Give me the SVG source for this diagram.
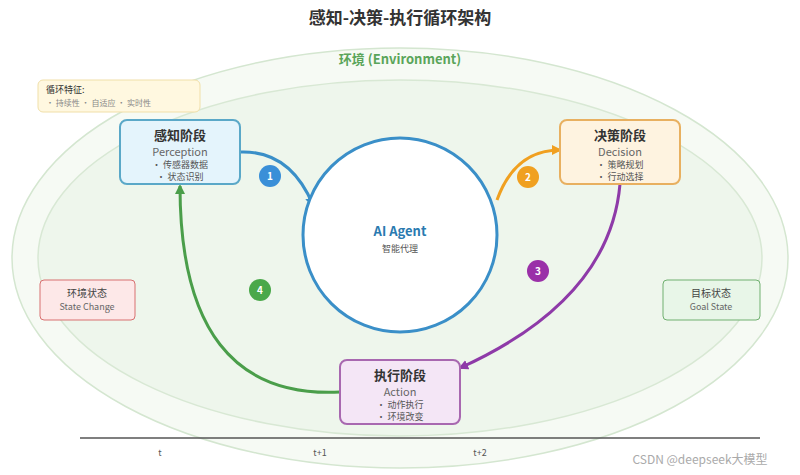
<svg xmlns="http://www.w3.org/2000/svg" width="800" height="475" viewBox="0 0 800 475">
<style>
text{font-family:"Noto Sans CJK SC","Liberation Sans",sans-serif;text-anchor:middle}
.t{font-size:13px;font-weight:bold;fill:#333}
.s{font-size:11px;fill:#666}
.b{font-size:9px;fill:#555}
.n{font-size:10px;fill:#fff;font-weight:bold}
</style>
<defs>
<marker id="mb" markerUnits="userSpaceOnUse" markerWidth="10" markerHeight="10" refX="8" refY="5" orient="auto"><path d="M0,0L10,5L0,10z" fill="#3a8fc8"/></marker>
<marker id="mo" markerUnits="userSpaceOnUse" markerWidth="10" markerHeight="10" refX="8" refY="5" orient="auto"><path d="M0,0L10,5L0,10z" fill="#f0a020"/></marker>
<marker id="mp" markerUnits="userSpaceOnUse" markerWidth="10" markerHeight="10" refX="8" refY="5" orient="auto"><path d="M0,0L10,5L0,10z" fill="#8e3aa8"/></marker>
<marker id="mg" markerUnits="userSpaceOnUse" markerWidth="10" markerHeight="10" refX="8" refY="5" orient="auto"><path d="M0,0L10,5L0,10z" fill="#4a9e4a"/></marker>
</defs>
<rect width="800" height="475" fill="#fff"/>
<text x="400" y="24" style="font-size:17px;font-weight:bold;fill:#333">感知-决策-执行循环架构</text>
<g id="env">
<ellipse cx="400" cy="258" rx="388" ry="210" fill="#f6faf4" stroke="#d4e6d0" stroke-width="1.5"/>
<ellipse cx="400" cy="258" rx="362" ry="178" fill="#eef6ec" stroke="#d8e8d4" stroke-width="1.5"/>
<text x="400" y="64" style="font-size:13px;font-weight:bold;fill:#5aa55a">环境 (Environment)</text>
</g>
<g id="loop">
<rect x="38" y="80" width="162" height="32" rx="5" fill="#fff8e0" stroke="#f0dfa8"/>
<text x="46" y="93" style="font-size:9px;fill:#333;text-anchor:start">循环特征:</text>
<text x="46" y="106" style="font-size:8px;fill:#888;text-anchor:start">• 持续性 • 自适应 • 实时性</text>
</g>
<g id="connectors" fill="none" stroke-width="3">
<path d="M240,152 Q290,150 313,205" stroke="#3a8fc8" marker-end="url(#mb)"/>
<path d="M497,200 Q515,150 560,150" stroke="#f0a020" marker-end="url(#mo)"/>
<path d="M620,184 Q610,300 460,368" stroke="#8e3aa8" marker-end="url(#mp)"/>
<path d="M340,392 Q180,400 180,186" stroke="#4a9e4a" marker-end="url(#mg)"/>
</g>
<g id="agent">
<circle cx="400" cy="235" r="97" fill="#fff" stroke="#3a8fc8" stroke-width="3"/>
<text x="400" y="236" style="font-size:13px;font-weight:bold;fill:#2a7ab0">AI Agent</text>
<text x="400" y="252" style="font-size:9px;fill:#555">智能代理</text>
</g>
<g id="perception">
<rect x="120" y="120" width="120" height="64" rx="7" fill="#e4f4fc" stroke="#5aa8c8" stroke-width="2"/>
<text class="t" x="180" y="140">感知阶段</text><text class="s" x="180" y="156">Perception</text>
<text class="b" x="180" y="168">• 传感器数据</text><text class="b" x="180" y="180">• 状态识别</text>
</g>
<g id="decision">
<rect x="560" y="120" width="120" height="64" rx="7" fill="#fef3e0" stroke="#e8b060" stroke-width="2"/>
<text class="t" x="620" y="140">决策阶段</text><text class="s" x="620" y="156">Decision</text>
<text class="b" x="620" y="168">• 策略规划</text><text class="b" x="620" y="180">• 行动选择</text>
</g>
<g id="action">
<rect x="340" y="360" width="120" height="64" rx="7" fill="#f4e6f6" stroke="#a868b0" stroke-width="2"/>
<text class="t" x="400" y="380">执行阶段</text><text class="s" x="400" y="396">Action</text>
<text class="b" x="400" y="408">• 动作执行</text><text class="b" x="400" y="420">• 环境改变</text>
</g>
<g id="state">
<rect x="40" y="280" width="95" height="40" rx="4" fill="#fde8e8" stroke="#d87070"/>
<text x="87" y="297" style="font-size:10px;fill:#444">环境状态</text><text x="87" y="310" style="font-size:9px;fill:#666">State Change</text>
</g>
<g id="goal">
<rect x="663" y="280" width="97" height="40" rx="4" fill="#e8f6e8" stroke="#70b070"/>
<text x="711" y="297" style="font-size:10px;fill:#444">目标状态</text><text x="711" y="310" style="font-size:9px;fill:#666">Goal State</text>
</g>
<g id="badges">
<circle cx="270" cy="176" r="11" fill="#3a8fd8"/><text class="n" x="270" y="180">1</text>
<circle cx="528" cy="177" r="11" fill="#f0a020"/><text class="n" x="528" y="181">2</text>
<circle cx="538" cy="271" r="11" fill="#9a30a8"/><text class="n" x="538" y="275">3</text>
<circle cx="260" cy="290" r="11" fill="#4aa84a"/><text class="n" x="260" y="294">4</text>
</g>
<g id="timeline">
<line x1="80" y1="438" x2="760" y2="438" stroke="#555" stroke-width="1.5"/>
<text x="160" y="456" style="font-size:9px;fill:#555">t</text>
<text x="320" y="456" style="font-size:9px;fill:#555">t+1</text>
<text x="480" y="456" style="font-size:9px;fill:#555">t+2</text>
</g>
<text x="700" y="464" style="font-size:12px;fill:#aaa">CSDN @deepseek大模型</text>
</svg>
